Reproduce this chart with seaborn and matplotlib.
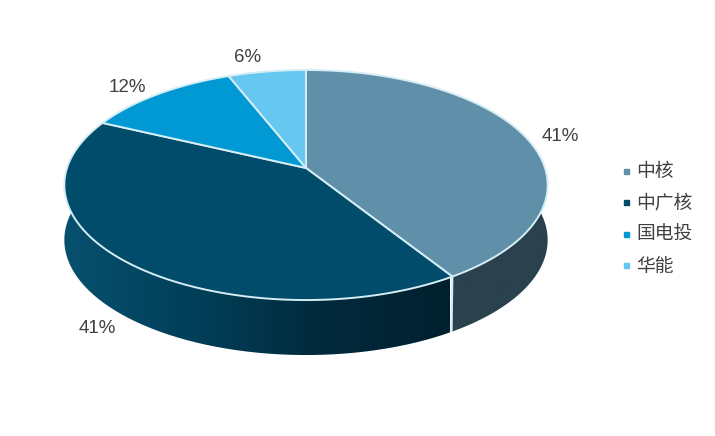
import numpy as np
import matplotlib.pyplot as plt
import matplotlib.path as mpath
from matplotlib.colors import LinearSegmentedColormap
from matplotlib.lines import Line2D
from matplotlib.patches import PathPatch
import seaborn as sns

# Pie data
categories = ['中核', '中广核', '国电投', '华能']
values = [41, 41, 12, 6]
top_colors = ['#5f8fa9', '#024c6b', '#0199d3', '#66c8f0']
label_xy = [(560, 136), (97, 328), (127, 87), (248, 57)]

# Pie geometry in image pixels (y goes down)
cx, cy = 306, 168
a, b, k = 239, 112.5, 0.148
depth = 55
edge = '#d5edf5'

sns.set_theme(style='white')
plt.rcParams['font.family'] = ['Noto Sans CJK SC', 'DejaVu Sans']

fig = plt.figure(figsize=(7.15, 4.36), dpi=100)
ax = fig.add_axes([0, 0, 1, 1])


def rim(t0, t1, n=200):
    # Perspective circle: angles are clockwise from the top, in degrees
    t = np.radians(np.linspace(t0, t1, n))
    u, v = np.sin(t), np.cos(t)
    w = 1 + k * v
    return cx + a * u / w, cy - b * v / w


def side_wall(t0, t1, colors, x0=60, x1=555):
    x, y = rim(t0, t1)
    xs = np.r_[x, x[::-1]]
    ys = np.r_[y, y[::-1] + depth]
    verts = np.column_stack([xs, ys])
    patch = PathPatch(mpath.Path(np.vstack([verts, verts[0]])), fc='none', ec='none')
    ax.add_patch(patch)
    cmap = LinearSegmentedColormap.from_list('wall', colors)
    img = ax.imshow(np.linspace(0, 1, 256)[None, :], cmap=cmap, aspect='auto',
                    extent=[x0, x1, 436, 0], zorder=1)
    img.set_clip_path(patch)


ends = np.cumsum(values) / np.sum(values) * 360
starts = np.r_[0, ends[:-1]]

# Side walls, only the two front slices show
side_wall(starts[0], ends[0], ['#2a414e', '#2a414e'])
side_wall(starts[1], ends[1], ['#07506e', '#013f59', '#012a3d', '#01202e'], x0=64, x1=450)

# Seam between the two walls
sx, sy = rim(ends[0], ends[0], 2)
ax.plot([sx[0], sx[0] - 1], [sy[0], sy[0] + depth - 1], color=edge, lw=1.6, zorder=2)

# Top face
for t0, t1, c in zip(starts, ends, top_colors):
    x, y = rim(t0, t1)
    ax.fill(np.r_[cx, x], np.r_[cy, y], facecolor=c, edgecolor=edge, lw=1.4,
            joinstyle='round', zorder=3)

for (lx, ly), v in zip(label_xy, values):
    ax.text(lx, ly, f'{v}%', ha='center', va='center', fontsize=13.5,
            color='#404040', family='Liberation Sans')

handles = [Line2D([], [], ls='none', marker='s', ms=3.6, color=c) for c in top_colors]
ax.legend(handles, categories, loc='center left', bbox_to_anchor=(607 / 715, 1 - 219 / 436),
          frameon=False, fontsize=13.5, labelcolor='#404040', labelspacing=0.56,
          handletextpad=-0.45, borderpad=0, borderaxespad=0)

ax.set_xlim(0, 715)
ax.set_ylim(436, 0)
ax.axis('off')
fig.savefig('out.png', dpi=100, facecolor='white')
